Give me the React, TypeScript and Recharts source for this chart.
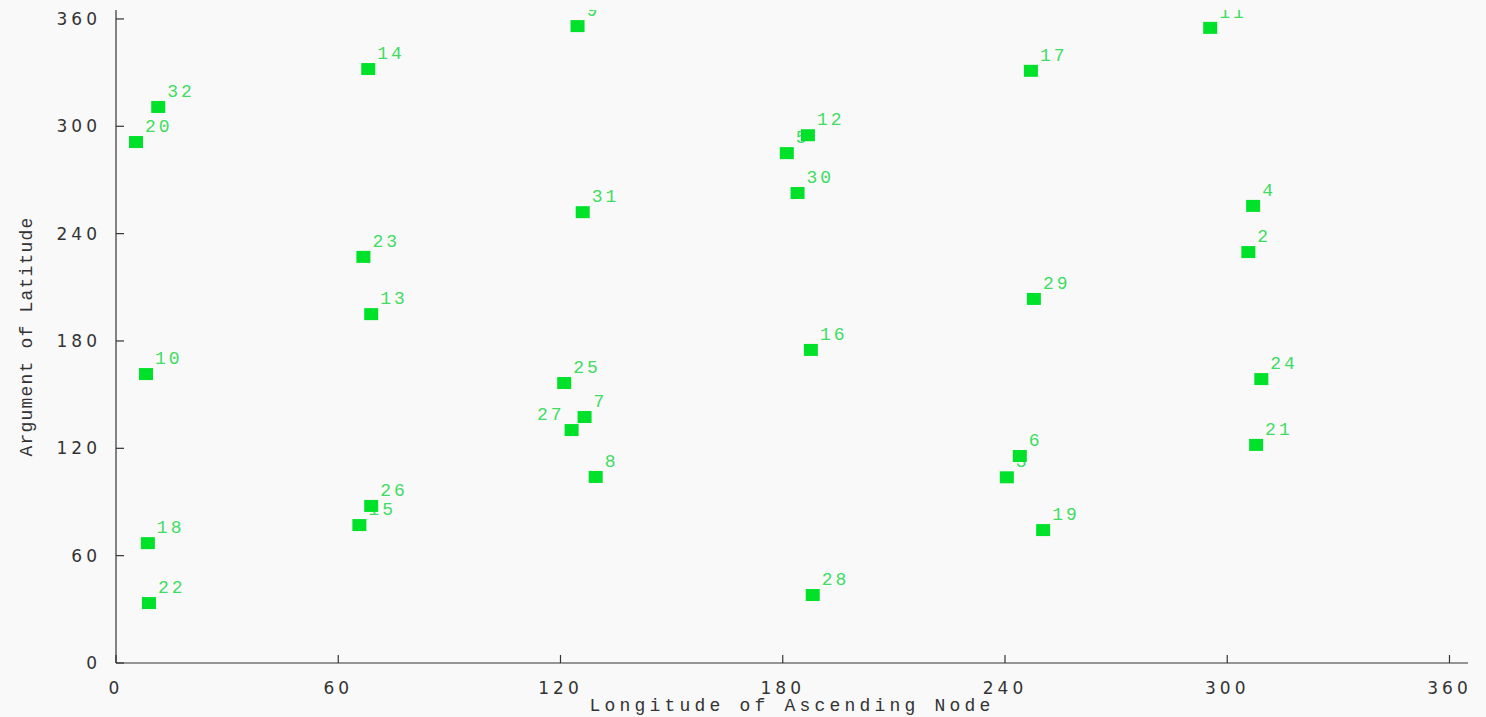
import React from "react"
import { ScatterChart, Scatter, XAxis, YAxis, Label } from "recharts"

// satellite ids with ascending node longitude / argument of latitude (deg)
const satIds = [20, 32, 14, 9, 17, 11, 12, 5, 30, 31, 4, 2, 23, 29, 13, 16, 10, 25, 24, 7, 27, 21, 6, 3, 8, 26, 15, 18, 19, 22, 28]
const longitudes = [5.4, 11.4, 68.1, 124.6, 247, 295.4, 186.8, 181.1, 184, 126, 307, 305.7, 66.8, 247.8, 68.9, 187.6, 8.1, 121, 309.2, 126.5, 123, 307.8, 244, 240.5, 129.5, 68.9, 65.7, 8.6, 250.3, 8.9, 188.1]
const latitudes = [291.2, 310.8, 332, 356, 331, 355, 295, 285, 262.7, 252, 255.5, 229.7, 227, 203.5, 195, 175, 161.5, 156.5, 158.7, 137.5, 130.2, 121.9, 115.7, 103.8, 104, 87.8, 77.1, 67, 74.3, 33.5, 38]
const leftLabelIds = [27]

const xTicks = [0, 60, 120, 180, 240, 300, 360]
const yTicks = [0, 60, 120, 180, 240, 300, 360]

const points = satIds.map((id, i) => ({ id, lon: longitudes[i], lat: latitudes[i] }))

const AXIS = "#333"
const MARKER = "#00e22a"
const LABEL = "#3fdc62"

const XTick = (props: any) => {
  const { x, y, payload } = props
  return (
    <g>
      <line x1={x} y1={y} x2={x} y2={y - 8} stroke={AXIS} strokeWidth={1.2} />
      <text x={x} y={y + 31} textAnchor="middle" fill={AXIS} fontSize={17} letterSpacing={4} fontFamily="DejaVu Sans">
        {payload.value}
      </text>
    </g>
  )
}

const YTick = (props: any) => {
  const { x, y, payload } = props
  return (
    <g>
      <line x1={x} y1={y} x2={x + 8} y2={y} stroke={AXIS} strokeWidth={1.2} />
      <text x={x - 15} y={y + 6} textAnchor="end" fill={AXIS} fontSize={17} letterSpacing={4} fontFamily="DejaVu Sans">
        {payload.value}
      </text>
    </g>
  )
}

const IdLabel = (props: any) => {
  const { cx, cy, payload } = props
  const left = leftLabelIds.includes(payload.id)
  return (
    <text
      x={left ? cx - 7 : cx + 9}
      y={cy - 10}
      textAnchor={left ? "end" : "start"}
      fill={LABEL}
      fontSize={18}
      letterSpacing={3}
      fontFamily="Liberation Mono"
    >
      {payload.id}
    </text>
  )
}

const Marker = (props: any) => {
  const { cx, cy } = props
  return <rect x={cx - 7} y={cy - 6} width={14} height={12} fill={MARKER} />
}

export default function App() {
  return (
    <div style={{ position: "absolute", left: 0, top: 0, width: 1486, height: 717, background: "#f9f9f9" }}>
      <ScatterChart width={1486} height={717} margin={{ top: 10, right: 18, bottom: 0, left: 0 }}>
        <XAxis
          type="number"
          dataKey="lon"
          domain={[0, 365]}
          ticks={xTicks}
          height={54}
          tickSize={0}
          tickMargin={0}
          tickLine={false}
          tick={<XTick />}
          stroke={AXIS}
          strokeWidth={1.2}
          allowDataOverflow
        >
          <Label
            value="Longitude of Ascending Node"
            position="insideBottom"
            offset={6}
            fill={AXIS}
            fontSize={18}
            letterSpacing={4.2}
            fontFamily="Liberation Mono"
          />
        </XAxis>
        <YAxis
          type="number"
          dataKey="lat"
          domain={[0, 365]}
          ticks={yTicks}
          width={116}
          tickSize={0}
          tickMargin={0}
          tickLine={false}
          tick={<YTick />}
          stroke={AXIS}
          strokeWidth={1.2}
          allowDataOverflow
        >
          <Label
            value="Argument of Latitude"
            angle={-90}
            position="insideLeft"
            offset={26}
            style={{ textAnchor: "middle" }}
            fill={AXIS}
            fontSize={18}
            letterSpacing={1.2}
            fontFamily="Liberation Mono"
          />
        </YAxis>
        <Scatter data={points} shape={<IdLabel />} isAnimationActive={false} />
        <Scatter data={points} shape={<Marker />} isAnimationActive={false} />
      </ScatterChart>
    </div>
  )
}
